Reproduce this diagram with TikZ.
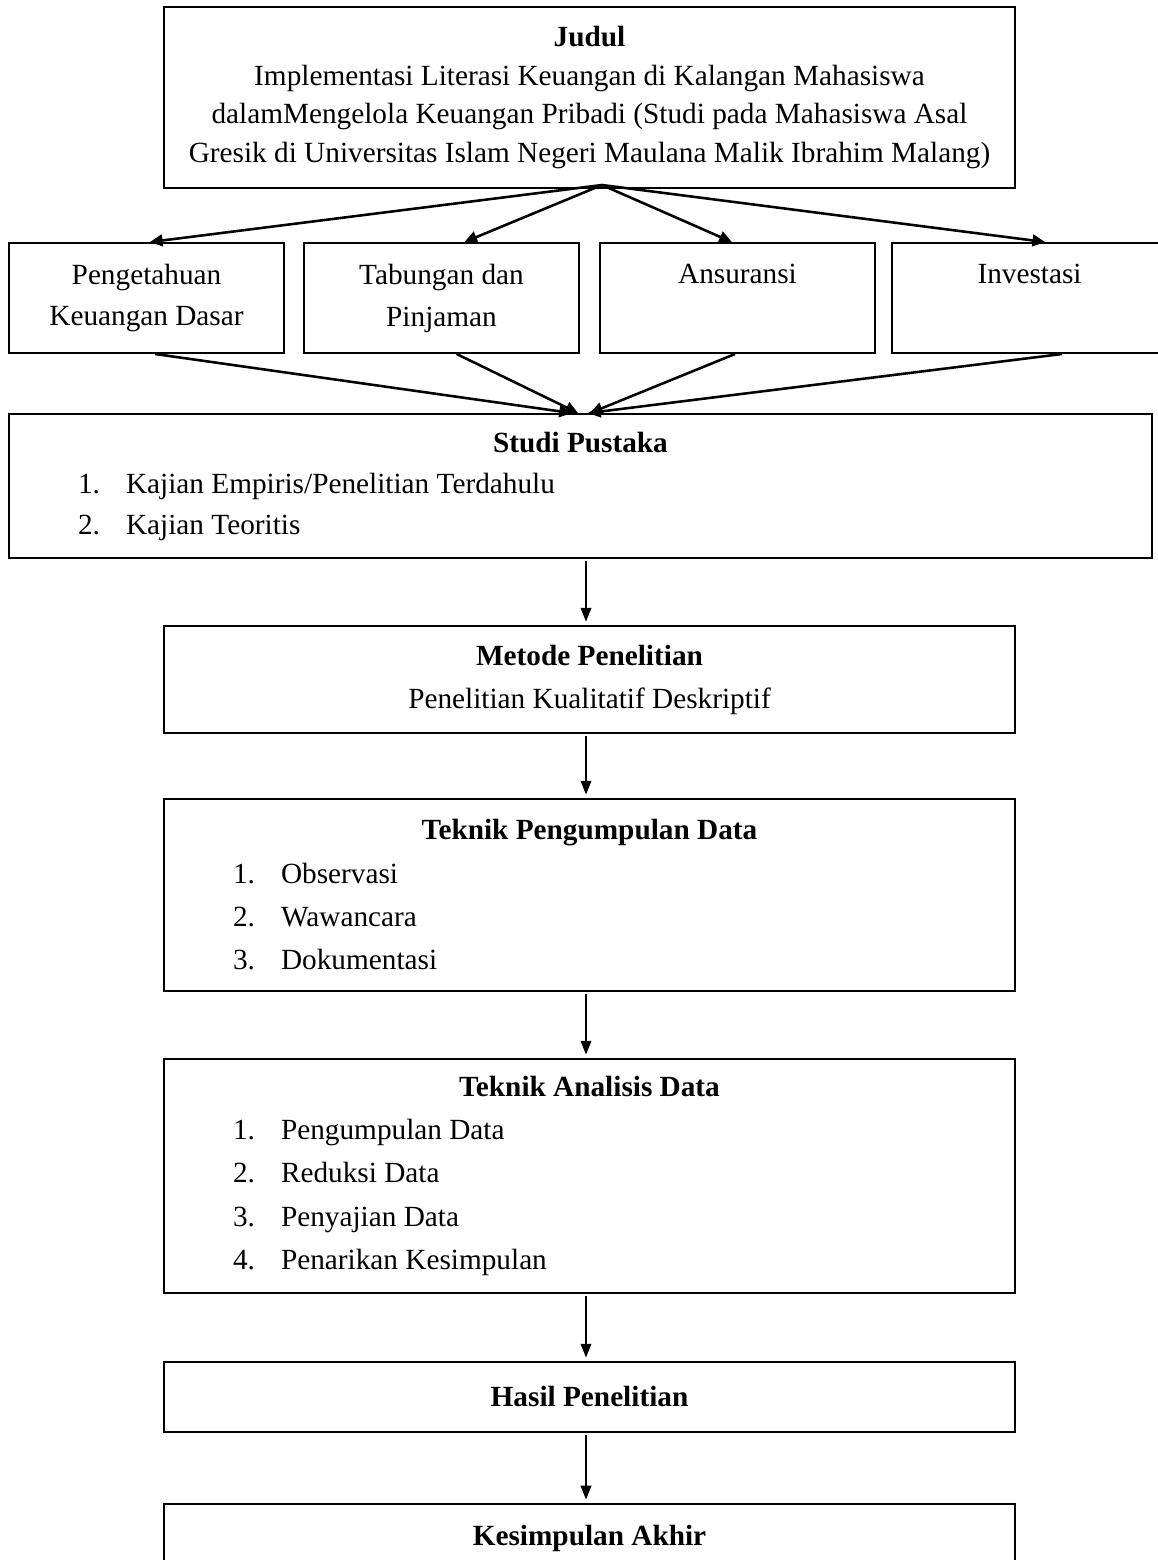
\documentclass[tikz,border=0pt]{standalone}
\usepackage{fontspec}
\setmainfont{Liberation Serif}
\usetikzlibrary{arrows.meta, positioning}

% numbered line inside a stage box, as wide as the box
\newcommand{\butir}[3][348.9pt]{\makebox[#1][l]{\hspace*{28.3pt}\makebox[19.7pt][l]{#2}#3}}

\begin{document}
\begin{tikzpicture}[
    x=0.41pt, y=-0.41pt,
    wide/.style={
        draw, line width=0.8pt,
        rectangle, inner sep=0pt,
        minimum width=348.9pt,
        align=center, font=\fontsize{12pt}{17.6pt}\selectfont
    },
    topic/.style={
        draw, line width=0.8pt,
        rectangle, inner sep=0pt,
        minimum height=45.1pt, minimum width=112.75pt,
        align=center, font=\fontsize{12pt}{17.2pt}\selectfont
    },
    phase/.style={
        wide, font=\fontsize{12pt}{17.8pt}\selectfont
    },
    fan/.style={-{Triangle[length=5.2pt, width=4.8pt]}, line width=1.05pt},
    dataflow/.style={-{Triangle[length=5.6pt, width=4.4pt]}, line width=0.5pt,
        shorten <=1pt, shorten >=1.4pt},
]
\useasboundingbox (0,0) rectangle (1158,1560);

% Title
\node[wide, minimum height=74.2pt, font=\fontsize{12pt}{15.8pt}\selectfont] (judul) at (589.5,97.5) {%
    \textbf{Judul}\\
    Implementasi Literasi Keuangan di Kalangan Mahasiswa\\
    dalamMengelola Keuangan Pribadi (Studi pada Mahasiswa Asal\\
    Gresik di Universitas Islam Negeri Maulana Malik Ibrahim Malang)
};

% Four aspects
\node[topic] (dasar) at (146.5,298) {Pengetahuan\\Keuangan Dasar};
\node[topic, right=7.4pt of dasar] (tabungan) {Tabungan dan\\Pinjaman};
\node[topic, right=7.8pt of tabungan] (ansuransi) {Ansuransi\\\vphantom{g}};
\node[topic, right=6.2pt of ansuransi] (investasi) {Investasi\\\vphantom{g}};

% Literature review
\node[phase, minimum width=468.6pt, minimum height=59pt,
      font=\fontsize{12pt}{16.8pt}\selectfont] (studi) at (580.5,486) {%
    \textbf{Studi Pustaka}\\
    \butir[468.6pt]{1.}{Kajian Empiris/Penelitian Terdahulu}\\
    \butir[468.6pt]{2.}{Kajian Teoritis}
};

% Method column
\node[wide, minimum height=43.9pt] (metode) at (589.5,679.5) {%
    \textbf{Metode Penelitian}\\
    Penelitian Kualitatif Deskriptif
};

\node[phase, minimum height=78.7pt, below=26.2pt of metode] (kumpul) {%
    \textbf{Teknik Pengumpulan Data}\\
    \butir{1.}{Observasi}\\
    \butir{2.}{Wawancara}\\
    \butir{3.}{Dokumentasi}
};

\node[phase, minimum height=95.9pt, below=27.1pt of kumpul] (analisis) {%
    \textbf{Teknik Analisis Data}\\
    \butir{1.}{Pengumpulan Data}\\
    \butir{2.}{Reduksi Data}\\
    \butir{3.}{Penyajian Data}\\
    \butir{4.}{Penarikan Kesimpulan}
};

\node[wide, minimum height=28.7pt, below=27.5pt of analisis] (hasil) {\textbf{Hasil Penelitian}};
\node[wide, minimum height=28.7pt, below=28.7pt of hasil] (akhir) {\textbf{Kesimpulan Akhir}};

% Fan out from the title
\coordinate (pusat) at (602,185);
\coordinate (kolom) at (586,0);

\draw[fan] (pusat) -- ([xshift=1.4pt]dasar.north);
\draw[fan] (pusat) -- ([xshift=9.4pt]tabungan.north);
\draw[fan] (pusat) -- ([xshift=-2.3pt]ansuransi.north);
\draw[fan] (pusat) -- ([xshift=6.4pt]investasi.north);

% Fan in to the literature review
\draw[fan] ([xshift=3.5pt]dasar.south) -- ([xshift=-3.5pt]studi.north);
\draw[fan] ([xshift=6.2pt]tabungan.south) -- ([xshift=-1pt]studi.north);
\draw[fan] ([xshift=-1pt]ansuransi.south) -- ([xshift=3.9pt]studi.north);
\draw[fan] ([xshift=13.3pt]investasi.south) -- ([xshift=3.1pt]studi.north);

% Main flow
\draw[dataflow] (studi.south -| kolom) -- (metode.north -| kolom);
\draw[dataflow] (metode.south -| kolom) -- (kumpul.north -| kolom);
\draw[dataflow] (kumpul.south -| kolom) -- (analisis.north -| kolom);
\draw[dataflow] (analisis.south -| kolom) -- (hasil.north -| kolom);
\draw[dataflow] (hasil.south -| kolom) -- (akhir.north -| kolom);

\end{tikzpicture}
\end{document}
